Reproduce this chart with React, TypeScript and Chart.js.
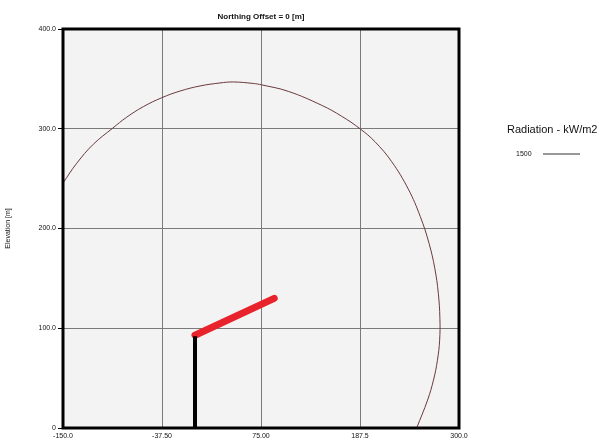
import React, { useEffect, useRef } from "react";
import { Chart, registerables } from "chart.js";

Chart.register(...registerables);

const chartTitle = "Northing Offset = 0 [m]";
const yAxisTitle = "Elevation [m]";
const legendTitle = "Radiation - kW/m2";
const legendLevels = ["1500"];

const xTickValues = [-150, -37.5, 75, 187.5, 300];
const xTickLabels = ["-150.0", "-37.50", "75.00", "187.5", "300.0"];
const yTickValues = [0, 100, 200, 300, 400];
const yTickLabels = ["0", "100.0", "200.0", "300.0", "400.0"];

// 1500 kW/m2 radiation contour
const contourX = [-150, -134.4, -115.6, -93.5, -77.6, -58.8, -37.8, -17, 5.7, 28.4, 43.5, 66.3, 75.8, 106, 144, 166.7, 187.5, 204.5, 223.5, 242.4, 256, 266, 272.5, 276.5, 278.3, 278, 275.5, 271, 264.3, 251.9];
const contourY = [245.6, 265.4, 284.4, 300.6, 311.6, 322.1, 331.1, 337.8, 342.9, 345.9, 346.9, 345.4, 344.0, 337.5, 323.5, 312.5, 300, 287, 267, 239.5, 212, 185, 160, 135, 110, 88, 68, 48, 28, 0];

// flare stack (tower) and flame
const towerX = [0, 0];
const towerY = [0, 92];
const flameX = [0, 90];
const flameY = [93, 130];

const toPoints = (xs: number[], ys: number[]) => xs.map((x, i) => ({ x, y: ys[i] }));

const framePlugin = {
  id: "frameAndLegend",
  beforeDraw(chart: any) {
    const { ctx, chartArea } = chart;
    ctx.save();
    ctx.fillStyle = "#f3f3f3";
    ctx.fillRect(chartArea.left, chartArea.top, chartArea.right - chartArea.left, chartArea.bottom - chartArea.top);
    ctx.restore();
  },
  afterDraw(chart: any) {
    const { ctx, chartArea } = chart;
    ctx.save();
    ctx.strokeStyle = "#000";
    ctx.lineWidth = 3;
    ctx.strokeRect(chartArea.left, chartArea.top, chartArea.right - chartArea.left, chartArea.bottom - chartArea.top);
    // legend
    ctx.fillStyle = "#111";
    ctx.font = "11px 'Liberation Sans', Arial, sans-serif";
    ctx.textBaseline = "middle";
    ctx.textAlign = "left";
    ctx.fillText(legendTitle, 507, 130);
    ctx.font = "7px 'Liberation Sans', Arial, sans-serif";
    legendLevels.forEach((lv, i) => {
      const y = 154 + i * 14;
      ctx.fillText(lv, 516, y);
      ctx.strokeStyle = "#333";
      ctx.lineWidth = 1;
      ctx.beginPath();
      ctx.moveTo(543, y);
      ctx.lineTo(580, y);
      ctx.stroke();
    });
    ctx.restore();
  },
};

export default function App() {
  const ref = useRef<HTMLCanvasElement>(null);
  useEffect(() => {
    if (!ref.current) return;
    const font = { family: "'Liberation Sans', Arial, sans-serif", size: 7 };
    const chart = new Chart(ref.current, {
      type: "scatter",
      data: {
        datasets: [
          {
            label: "1500",
            data: toPoints(contourX, contourY),
            showLine: true,
            borderColor: "#6a3a3e",
            borderWidth: 1,
            pointRadius: 0,
            tension: 0.4,
          },
          {
            label: "Stack",
            data: toPoints(towerX, towerY),
            showLine: true,
            borderColor: "#000",
            borderWidth: 4,
            pointRadius: 0,
          },
          {
            label: "Flame",
            data: toPoints(flameX, flameY),
            showLine: true,
            borderColor: "#e8232b",
            borderWidth: 7,
            borderCapStyle: "round",
            pointRadius: 0,
          },
        ],
      },
      options: {
        animation: false,
        responsive: false,
        layout: { padding: { left: 0, right: 157, top: 0, bottom: 0 } },
        plugins: {
          legend: { display: false },
          tooltip: { enabled: false },
          title: {
            display: true,
            text: chartTitle,
            fullSize: false,
            color: "#111",
            font: { family: "'Liberation Sans', Arial, sans-serif", size: 8, weight: "bold" },
            padding: { top: 12, bottom: 7.4 },
          },
        },
        scales: {
          x: {
            type: "linear",
            min: -150,
            max: 300,
            afterBuildTicks: (s: any) => {
              s.ticks = xTickValues.map((v) => ({ value: v }));
            },
            afterFit: (s: any) => {
              s.height = 19;
            },
            ticks: {
              color: "#111",
              font,
              padding: 4,
              maxRotation: 0,
              autoSkip: false,
              callback: (v: any) => {
                const i = xTickValues.indexOf(Number(v));
                return i >= 0 ? xTickLabels[i] : "";
              },
            },
            grid: { color: "#7a7a7a", lineWidth: 1, drawTicks: false },
            border: { display: false },
          },
          y: {
            type: "linear",
            min: 0,
            max: 400,
            afterBuildTicks: (s: any) => {
              s.ticks = yTickValues.map((v) => ({ value: v }));
            },
            afterFit: (s: any) => {
              s.width = 63;
            },
            title: {
              display: true,
              text: yAxisTitle,
              color: "#111",
              font,
              padding: { top: 4, bottom: 0 },
            },
            ticks: {
              color: "#111",
              font,
              padding: 2,
              autoSkip: false,
              callback: (v: any) => {
                const i = yTickValues.indexOf(Number(v));
                return i >= 0 ? yTickLabels[i] : "";
              },
            },
            grid: { color: "#7a7a7a", lineWidth: 1, tickLength: 5, tickColor: "#000" },
            border: { display: false },
          },
        },
      },
      plugins: [framePlugin],
    } as any);
    return () => chart.destroy();
  }, []);
  return (
    <div style={{ position: "fixed", left: 0, top: 0, width: 616, height: 447, background: "#fff" }}>
      <canvas ref={ref} width={616} height={447} style={{ display: "block" }} />
    </div>
  );
}
